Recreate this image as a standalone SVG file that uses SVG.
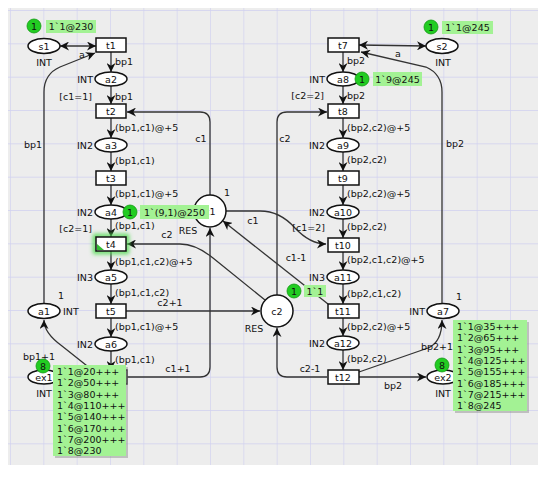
<svg xmlns="http://www.w3.org/2000/svg" width="550" height="477" viewBox="0 0 550 477">
<defs>
<pattern id="grid" x="10" y="10" width="33.333" height="33.333" patternUnits="userSpaceOnUse">
<path d="M0,0 H33.333 M0,0 V33.333" stroke="#d0d0f0" stroke-width="1.3" fill="none"/>
</pattern>
<marker id="ah" viewBox="0 0 10 10" refX="10" refY="5" markerWidth="9" markerHeight="9" orient="auto-start-reverse" markerUnits="userSpaceOnUse">
<path d="M0,0 L10,5 L0,10 L3,5 z" fill="#111"/>
</marker>
<filter id="glow" x="-50%" y="-50%" width="200%" height="200%"><feGaussianBlur stdDeviation="2"/></filter>
</defs>
<style>
text{font-family:"DejaVu Sans",Verdana,sans-serif;font-size:9.5px;fill:#111}
.c{text-anchor:middle}
.e{text-anchor:end}
.tr{fill:#fff;stroke:#111;stroke-width:1.5}
.pl{fill:#fff;stroke:#111;stroke-width:1.5}
.arc{fill:none;stroke:#333;stroke-width:1.3;marker-end:url(#ah)}
.arc2{fill:none;stroke:#333;stroke-width:1.3;marker-end:url(#ah);marker-start:url(#ah)}
.tok{fill:#22cc22;stroke:#119911;stroke-width:0.8}
.tb{fill:#a3f294}
.sh{fill:#888;opacity:0.45}
</style>
<rect x="0" y="0" width="550" height="477" fill="#fff"/>
<rect x="8" y="8" width="530" height="457" fill="#ededed"/>
<rect x="8" y="8" width="530" height="457" fill="url(#grid)"/>

<g id="connectors">
<path class="arc2" d="M60,46 L96,46"/>
<path class="arc2" d="M359,45 L426,46"/>
<path class="arc" d="M44,303 L44,92 Q44,74 60,67 L95,53"/>
<path class="arc" d="M442,303 L442,92 Q442,74 426,67 L361,52"/>
<path class="arc" d="M96,373 L62,346 Q44,333 44,320"/>
<path class="arc" d="M359,372 L428,348 Q442,342 442,320"/>
<path class="arc" d="M359,377 L426,377"/>
<path class="arc" d="M210,195 V122 Q210,112 200,112 L127,112"/>
<path class="arc" d="M127,377 L200,377 Q210,377 210,367 L210,228"/>
<path class="arc" d="M277,295 V122 Q277,112 287,112 L327,112"/>
<path class="arc" d="M327,377 L287,377 Q277,377 277,367 L277,328"/>
<path class="arc" d="M126,311 L260,311"/>
<path class="arc" d="M265,300 L213,258 Q196,244 180,244 L127,244"/>
<path class="arc" d="M226,211 L260,211 Q280,211 295,228 Q310,244 326,244"/>
<path class="arc" d="M328,304 L223,221"/>
<path class="arc" d="M111,52 V72"/>
<path class="arc" d="M111,86 V104"/>
<path class="arc" d="M111,118 V138"/>
<path class="arc" d="M111,152 V171"/>
<path class="arc" d="M111,185 V205"/>
<path class="arc" d="M111,219 V237"/>
<path class="arc" d="M111,251 V270"/>
<path class="arc" d="M111,284 V304"/>
<path class="arc" d="M111,318 V337"/>
<path class="arc" d="M111,351 V370"/>
<path class="arc" d="M343,52 V72"/>
<path class="arc" d="M343,86 V104"/>
<path class="arc" d="M343,118 V138"/>
<path class="arc" d="M343,152 V171"/>
<path class="arc" d="M343,185 V205"/>
<path class="arc" d="M343,219 V238"/>
<path class="arc" d="M343,252 V270"/>
<path class="arc" d="M343,284 V304"/>
<path class="arc" d="M343,318 V336"/>
<path class="arc" d="M343,350 V370"/>
</g>

<g id="arc-labels">
<text x="79" y="58">a</text>
<text x="395" y="57">a</text>
<text x="33" y="148" class="c">bp1</text>
<text x="455" y="147" class="c">bp2</text>
<text x="39" y="360" class="c">bp1+1</text>
<text x="437" y="350" class="c">bp2+1</text>
<text x="393" y="389" class="c">bp2</text>
<text x="201" y="142" class="c">c1</text>
<text x="285" y="142" class="c">c2</text>
<text x="167" y="238" class="c">c2</text>
<text x="170" y="306" class="c">c2+1</text>
<text x="178" y="372" class="c">c1+1</text>
<text x="310" y="372" class="c">c2-1</text>
<text x="253" y="224" class="c">c1</text>
<text x="296" y="261" class="c">c1-1</text>
<text x="115" y="65">bp1</text>
<text x="115" y="100">bp1</text>
<text x="115" y="131">(bp1,c1)@+5</text>
<text x="115" y="164">(bp1,c1)</text>
<text x="115" y="197">(bp1,c1)@+5</text>
<text x="115" y="229">(bp1,c1)</text>
<text x="115" y="265">(bp1,c1,c2)@+5</text>
<text x="115" y="296">(bp1,c1,c2)</text>
<text x="115" y="330">(bp1,c1)@+5</text>
<text x="115" y="363">(bp1,c1)</text>
<text x="347" y="64">bp2</text>
<text x="347" y="99">bp2</text>
<text x="347" y="131">(bp2,c2)@+5</text>
<text x="347" y="163">(bp2,c2)</text>
<text x="347" y="197">(bp2,c2)@+5</text>
<text x="347" y="230">(bp2,c2)</text>
<text x="347" y="263">(bp2,c1,c2)@+5</text>
<text x="347" y="297">(bp2,c1,c2)</text>
<text x="347" y="330">(bp2,c2)@+5</text>
<text x="347" y="362">(bp2,c2)</text>
</g>

<g id="s1"><ellipse class="pl" cx="44" cy="46" rx="16" ry="7.5"/><text x="44" y="49.5" class="c">s1</text><text x="44" y="66" class="c">INT</text></g>
<g id="s2"><ellipse class="pl" cx="442" cy="46" rx="16" ry="7.5"/><text x="442" y="49.5" class="c">s2</text><text x="443" y="66" class="c">INT</text></g>
<g id="a1"><ellipse class="pl" cx="44" cy="311" rx="16" ry="7.5"/><text x="44" y="314.5" class="c">a1</text><text x="63" y="314.5">INT</text><text x="61" y="299" class="c">1</text></g>
<g id="a7"><ellipse class="pl" cx="443" cy="311" rx="16" ry="7.5"/><text x="443" y="314.5" class="c">a7</text><text x="425" y="314.5" class="e">INT</text><text x="459" y="300" class="c">1</text></g>
<g id="ex1"><ellipse class="pl" cx="44" cy="377" rx="16" ry="7"/><text x="44" y="380.5" class="c">ex1</text><text x="44" y="397" class="c">INT</text></g>
<g id="ex2"><ellipse class="pl" cx="443" cy="377" rx="16" ry="7"/><text x="443" y="380.5" class="c">ex2</text><text x="443" y="397" class="c">INT</text></g>

<g id="c1"><circle class="pl" cx="210" cy="211" r="16"/><text x="210" y="214.5" class="c">c1</text><text x="188" y="234" class="c">RES</text><text x="227" y="196" class="c">1</text></g>
<g id="c2"><circle class="pl" cx="277" cy="311" r="16"/><text x="277" y="314.5" class="c">c2</text><text x="254" y="332" class="c">RES</text></g>

<g id="t1"><rect class="tr" x="96" y="38" width="30" height="14"/><text x="111" y="48.5" class="c">t1</text></g>
<g id="a2"><ellipse class="pl" cx="111" cy="79" rx="16" ry="7"/><text x="111" y="82.5" class="c">a2</text><text x="93" y="82.5" class="e">INT</text></g>
<g id="t2"><rect class="tr" x="96" y="104" width="30" height="14"/><text x="111" y="114.5" class="c">t2</text><text x="92" y="100" class="e">[c1=1]</text></g>
<g id="a3"><ellipse class="pl" cx="111" cy="145" rx="16" ry="7"/><text x="111" y="148.5" class="c">a3</text><text x="93" y="148.5" class="e">IN2</text></g>
<g id="t3"><rect class="tr" x="96" y="171" width="30" height="14"/><text x="111" y="181.5" class="c">t3</text></g>
<g id="a4"><ellipse class="pl" cx="111" cy="212" rx="16" ry="7"/><text x="111" y="215.5" class="c">a4</text><text x="93" y="215.5" class="e">IN2</text></g>
<g id="t4"><rect x="95" y="236" width="32" height="16" fill="none" stroke="#55dd55" stroke-width="4" filter="url(#glow)"/><rect class="tr" x="96" y="237" width="30" height="14"/><path d="M97,250 L97,244 L104,250 z" fill="#33bb33"/><text x="111" y="247.5" class="c">t4</text><text x="92" y="232" class="e">[c2=1]</text></g>
<g id="a5"><ellipse class="pl" cx="111" cy="277" rx="16" ry="7"/><text x="111" y="280.5" class="c">a5</text><text x="93" y="280.5" class="e">IN3</text></g>
<g id="t5"><rect class="tr" x="96" y="304" width="30" height="14"/><text x="111" y="314.5" class="c">t5</text></g>
<g id="a6"><ellipse class="pl" cx="111" cy="344" rx="16" ry="7"/><text x="111" y="347.5" class="c">a6</text><text x="93" y="347.5" class="e">IN2</text></g>
<g id="t6"><rect class="tr" x="96" y="370" width="31" height="14"/></g>

<g id="t7"><rect class="tr" x="328" y="38" width="31" height="14"/><text x="343" y="48.5" class="c">t7</text></g>
<g id="a8"><ellipse class="pl" cx="343" cy="79" rx="16" ry="7"/><text x="343" y="82.5" class="c">a8</text><text x="325" y="82.5" class="e">INT</text></g>
<g id="t8"><rect class="tr" x="328" y="104" width="31" height="14"/><text x="343" y="114.5" class="c">t8</text><text x="324" y="99" class="e">[c2=2]</text></g>
<g id="a9"><ellipse class="pl" cx="343" cy="145" rx="16" ry="7"/><text x="343" y="148.5" class="c">a9</text><text x="325" y="148.5" class="e">IN2</text></g>
<g id="t9"><rect class="tr" x="328" y="171" width="31" height="14"/><text x="343" y="181.5" class="c">t9</text></g>
<g id="a10"><ellipse class="pl" cx="343" cy="212" rx="16" ry="7"/><text x="343" y="215.5" class="c">a10</text><text x="325" y="215.5" class="e">IN2</text></g>
<g id="t10"><rect class="tr" x="328" y="238" width="31" height="14"/><text x="343" y="248.5" class="c">t10</text><text x="325" y="231" class="e">[c1=2]</text></g>
<g id="a11"><ellipse class="pl" cx="343" cy="277" rx="16" ry="7"/><text x="343" y="280.5" class="c">a11</text><text x="325" y="280.5" class="e">IN3</text></g>
<g id="t11"><rect class="tr" x="328" y="304" width="31" height="14"/><text x="343" y="314.5" class="c">t11</text></g>
<g id="a12"><ellipse class="pl" cx="343" cy="343" rx="16" ry="7"/><text x="343" y="346.5" class="c">a12</text><text x="325" y="346.5" class="e">IN2</text></g>
<g id="t12"><rect class="tr" x="328" y="370" width="31" height="14"/><text x="343" y="380.5" class="c">t12</text></g>

<g id="marking-s1"><rect class="tb" x="46" y="20" width="50" height="13"/><text x="71" y="30" class="c">1`1@230</text><circle class="tok" cx="34" cy="26" r="7"/><text x="34" y="29.5" class="c">1</text></g>
<g id="marking-s2"><rect class="tb" x="442" y="21" width="51" height="13"/><text x="467.5" y="31" class="c">1`1@245</text><circle class="tok" cx="431" cy="27" r="7"/><text x="431" y="30.5" class="c">1</text></g>
<g id="marking-a8"><rect class="tb" x="373" y="72" width="49" height="14"/><text x="397.5" y="82.5" class="c">1`9@245</text><circle class="tok" cx="362" cy="79" r="7"/><text x="362" y="82.5" class="c">1</text></g>
<g id="marking-a4"><rect class="tb" x="140" y="205" width="69" height="14"/><text x="174.5" y="215.5" class="c">1`(9,1)@250</text><circle class="tok" cx="130" cy="212" r="7"/><text x="130" y="215.5" class="c">1</text></g>
<g id="marking-c2"><rect class="tb" x="304" y="285" width="22" height="12"/><text x="315" y="294.5" class="c">1`1</text><circle class="tok" cx="294" cy="291" r="7"/><text x="294" y="294.5" class="c">1</text></g>
<g id="marking-ex1"><rect class="sh" x="55" y="367" width="73" height="91"/><rect class="tb" x="53" y="365" width="73" height="91"/>
<text x="57" y="375">1`1@20+++</text><text x="57" y="386.3">1`2@50+++</text><text x="57" y="397.6">1`3@80+++</text><text x="57" y="408.9">1`4@110+++</text><text x="57" y="420.2">1`5@140+++</text><text x="57" y="431.5">1`6@170+++</text><text x="57" y="442.8">1`7@200+++</text><text x="57" y="454.1">1`8@230</text>
<circle class="tok" cx="43" cy="366" r="7"/><text x="43" y="369.5" class="c">8</text></g>
<g id="marking-ex2"><rect class="sh" x="455" y="322" width="74" height="91"/><rect class="tb" x="453" y="320" width="74" height="91"/>
<text x="457" y="330">1`1@35+++</text><text x="457" y="341.3">1`2@65+++</text><text x="457" y="352.6">1`3@95+++</text><text x="457" y="363.9">1`4@125+++</text><text x="457" y="375.2">1`5@155+++</text><text x="457" y="386.5">1`6@185+++</text><text x="457" y="397.8">1`7@215+++</text><text x="457" y="409.1">1`8@245</text>
<circle class="tok" cx="442" cy="365" r="7"/><text x="442" y="368.5" class="c">8</text></g>
</svg>
